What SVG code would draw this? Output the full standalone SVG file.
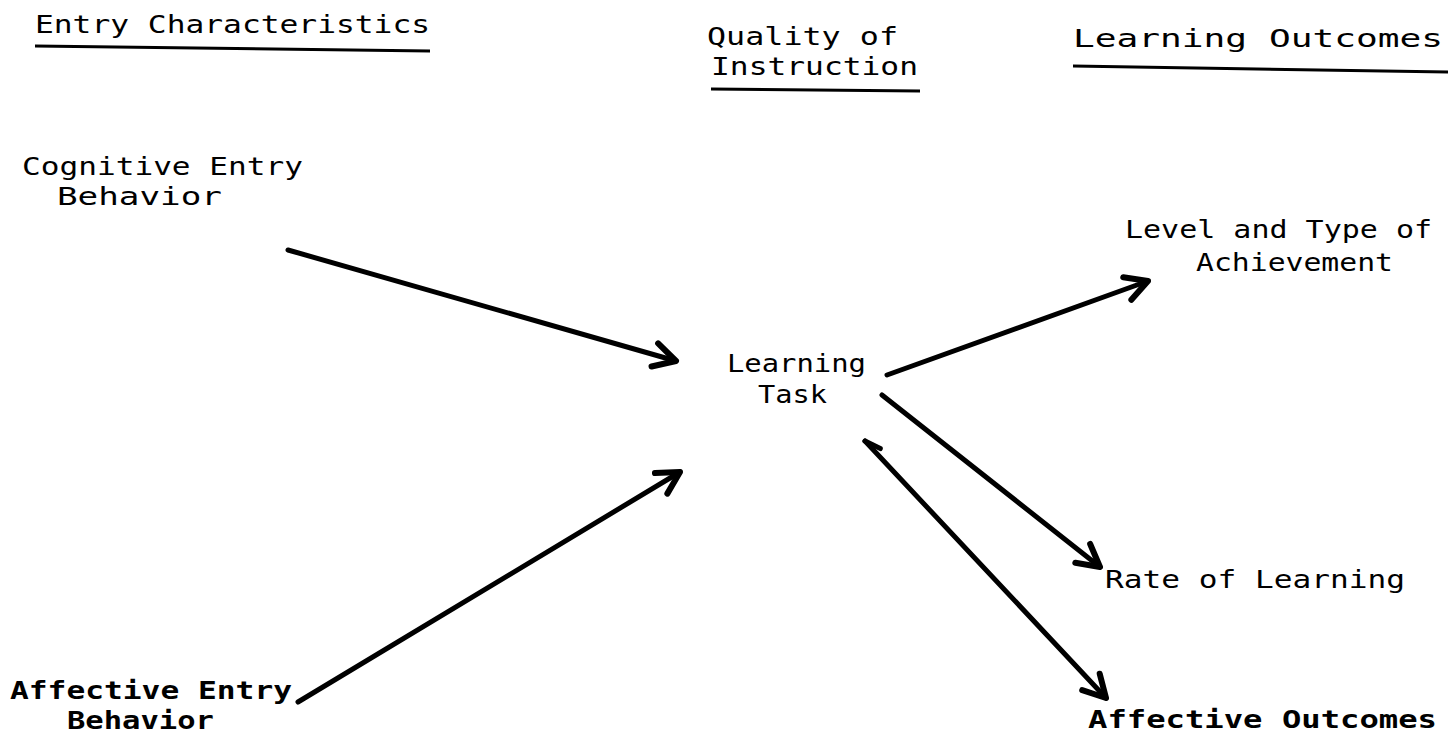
<svg xmlns="http://www.w3.org/2000/svg" width="1453" height="752" viewBox="0 0 1453 752">
<style>
.t{font-family:"DejaVu Sans Mono","Liberation Mono",monospace;font-size:25px;fill:#000}
.b{font-weight:bold}
.u{stroke:#000;stroke-width:3;fill:none}
.c{stroke:#000;stroke-width:5;fill:none;stroke-linecap:round}
</style>
<defs>
<marker id="ah" markerUnits="userSpaceOnUse" markerWidth="40" markerHeight="40" refX="30" refY="20" orient="auto" viewBox="0 0 40 40">
<path d="M8,8 L30,20 L8,32" fill="none" stroke="#000" stroke-width="6" stroke-linejoin="round" stroke-linecap="round"/>
</marker>
<marker id="as" markerUnits="userSpaceOnUse" markerWidth="40" markerHeight="40" refX="10" refY="20" orient="auto" viewBox="0 0 40 40">
<path d="M10,20 L26,14" fill="none" stroke="#000" stroke-width="5" stroke-linecap="round"/>
</marker>
</defs>
<rect width="1453" height="752" fill="#fff"/>
<g id="header-entry">
<text class="t" x="35" y="33" textLength="395" lengthAdjust="spacingAndGlyphs">Entry Characteristics</text>
<path class="u" d="M35,46 L430,51"/>
</g>
<g id="header-quality">
<text class="t" x="707" y="45" textLength="191" lengthAdjust="spacingAndGlyphs">Quality of</text>
<text class="t" x="711" y="75" textLength="207" lengthAdjust="spacingAndGlyphs">Instruction</text>
<path class="u" d="M711,89 L920,91"/>
</g>
<g id="header-outcomes">
<text class="t" x="1073" y="47" textLength="370" lengthAdjust="spacingAndGlyphs">Learning Outcomes</text>
<path class="u" d="M1073,66 L1448,72"/>
</g>
<g id="cognitive">
<text class="t" x="22" y="175" textLength="281" lengthAdjust="spacingAndGlyphs">Cognitive Entry</text>
<text class="t" x="57" y="205" textLength="165" lengthAdjust="spacingAndGlyphs">Behavior</text>
</g>
<g id="affective-entry">
<text class="t b" x="10" y="699" textLength="282" lengthAdjust="spacingAndGlyphs">Affective Entry</text>
<text class="t b" x="67" y="729" textLength="147" lengthAdjust="spacingAndGlyphs">Behavior</text>
</g>
<g id="task">
<text class="t" x="727" y="372" textLength="139" lengthAdjust="spacingAndGlyphs">Learning</text>
<text class="t" x="758" y="403" textLength="69" lengthAdjust="spacingAndGlyphs">Task</text>
</g>
<g id="achievement">
<text class="t" x="1125" y="238" textLength="307" lengthAdjust="spacingAndGlyphs">Level and Type of</text>
<text class="t" x="1196" y="271" textLength="197" lengthAdjust="spacingAndGlyphs">Achievement</text>
</g>
<g id="rate">
<text class="t" x="1105" y="588" textLength="300" lengthAdjust="spacingAndGlyphs">Rate of Learning</text>
</g>
<g id="affective-outcomes">
<text class="t b" x="1088" y="728" textLength="349" lengthAdjust="spacingAndGlyphs">Affective Outcomes</text>
</g>
<g id="connectors">
<line class="c" x1="288" y1="250" x2="676" y2="361" marker-end="url(#ah)"/>
<line class="c" x1="298" y1="702" x2="680" y2="472" marker-end="url(#ah)"/>
<line class="c" x1="887" y1="375" x2="1148" y2="281" marker-end="url(#ah)"/>
<line class="c" x1="882" y1="395" x2="1100" y2="567" marker-end="url(#ah)"/>
<line class="c" x1="865" y1="441" x2="1106" y2="698" marker-end="url(#ah)" marker-start="url(#as)"/>
</g>
</svg>
